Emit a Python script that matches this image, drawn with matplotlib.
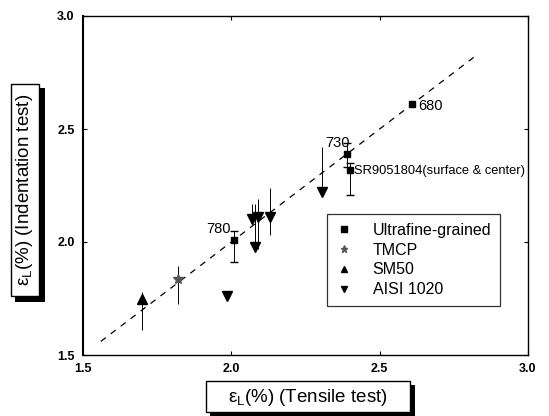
import matplotlib
matplotlib.use("Agg")
import matplotlib.pyplot as plt
from matplotlib.patches import Rectangle

plt.rcParams['font.family'] = ['Liberation Sans', 'DejaVu Sans']

# Ultrafine-grained
ufg_x = [2.01, 2.39, 2.40, 2.61]
ufg_y = [2.01, 2.39, 2.32, 2.61]
ufg_err_lo = [0.10, 0.06, 0.11, 0.0]
ufg_err_hi = [0.04, 0.05, 0.03, 0.0]
ufg_labels = ["780", "730", "SR9051804(surface & center)", "680"]

# TMCP
tmcp_x = [1.82]
tmcp_y = [1.835]
tmcp_err_lo = [0.11]
tmcp_err_hi = [0.06]

# SM50
sm_x = [1.70]
sm_y = [1.75]
sm_err_lo = [0.14]
sm_err_hi = [0.03]

# AISI 1020
aisi_x = [1.985, 2.07, 2.08, 2.09, 2.13, 2.305]
aisi_y = [1.76, 2.10, 1.98, 2.11, 2.11, 2.22]
aisi_err_lo = [0.0, 0.02, 0.01, 0.14, 0.08, 0.0]
aisi_err_hi = [0.0, 0.07, 0.19, 0.08, 0.13, 0.20]

fit_x = [1.56, 2.83]

xticks = [1.5, 2.0, 2.5, 3.0]
yticks = [1.5, 2.0, 2.5, 3.0]

W, H = 549, 416
fig = plt.figure(figsize=(W / 100, H / 100), dpi=100)
ax = fig.add_axes([83 / W, 1 - 355 / H, (528 - 83) / W, (355 - 16) / H])

ax.plot(fit_x, fit_x, ls=(0, (5, 5)), color='black', lw=0.9, zorder=1)

ek = dict(fmt='none', ecolor='black', elinewidth=0.7, zorder=2)
ax.errorbar(ufg_x[:3], ufg_y[:3], yerr=[ufg_err_lo[:3], ufg_err_hi[:3]], capsize=3, **ek)
ax.errorbar(tmcp_x, tmcp_y, yerr=[tmcp_err_lo, tmcp_err_hi], capsize=0, **ek)
ax.errorbar(sm_x, sm_y, yerr=[sm_err_lo, sm_err_hi], capsize=0, **ek)
ax.errorbar(aisi_x, aisi_y, yerr=[aisi_err_lo, aisi_err_hi], capsize=0, **ek)

ax.plot(ufg_x, ufg_y, 's', color='black', ms=5, ls='none', label='Ultrafine-grained', zorder=3)
ax.plot(tmcp_x, tmcp_y, '*', color='#555555', ms=7, ls='none', label='TMCP', zorder=3)
ax.plot(sm_x, sm_y, '^', color='black', ms=6.5, ls='none', label='SM50', zorder=3)
ax.plot(aisi_x, aisi_y, 'v', color='black', ms=6.5, ls='none', label='AISI 1020', zorder=3)

ax.text(1.915, 2.04, ufg_labels[0], fontsize=10.5)
ax.text(2.315, 2.42, ufg_labels[1], fontsize=10.5)
ax.text(2.415, 2.30, ufg_labels[2], fontsize=9.3)
ax.text(2.63, 2.585, ufg_labels[3], fontsize=10.5)

ax.set_xlim(1.5, 3.0)
ax.set_ylim(1.5, 3.0)
ax.set_xticks(xticks)
ax.set_yticks(yticks)
ax.set_xticklabels([f"{v:.1f}" for v in xticks], fontsize=9, fontweight='bold')
ax.set_yticklabels([f"{v:.1f}" for v in yticks], fontsize=9, fontweight='bold')
ax.tick_params(direction='in', length=3, width=0.8, top=True, right=True, pad=6)
for s in ax.spines.values():
    s.set_linewidth(1.0)
ax.spines['left'].set_linewidth(1.5)

leg = ax.legend(loc='upper left', bbox_to_anchor=((327 - 83) / 445, 1 - (214 - 16) / 339),
                fontsize=11.5, frameon=True, fancybox=False, edgecolor='black',
                handletextpad=1.3, borderpad=0.55, labelspacing=0.3, handlelength=1.0,
                borderaxespad=0, markerscale=0.75)
leg.get_frame().set_linewidth(0.9)

# axis label boxes with shadows (pixel coords -> figure fraction)
def fbox(x0, y0, x1, y1, **kw):
    r = Rectangle((x0 / W, 1 - y1 / H), (x1 - x0) / W, (y1 - y0) / H,
                  transform=fig.transFigure, **kw)
    fig.patches.append(r)

# x label box
fbox(210, 385, 415, 416, facecolor='black', edgecolor='none')
fbox(206, 381, 410, 412, facecolor='white', edgecolor='black', lw=1.0)
fig.text(308 / W, 1 - 397 / H, r"$\mathregular{\varepsilon_L}$(%) (Tensile test)",
         ha='center', va='center', fontsize=13.5)

# y label box
fbox(15, 88, 45, 302, facecolor='black', edgecolor='none')
fbox(11, 84, 39, 296, facecolor='white', edgecolor='black', lw=1.0)
fig.text(25 / W, 1 - 190 / H, r"$\mathregular{\varepsilon_L}$(%) (Indentation test)",
         ha='center', va='center', rotation=90, fontsize=13.5)

fig.savefig("out.png", dpi=100)
